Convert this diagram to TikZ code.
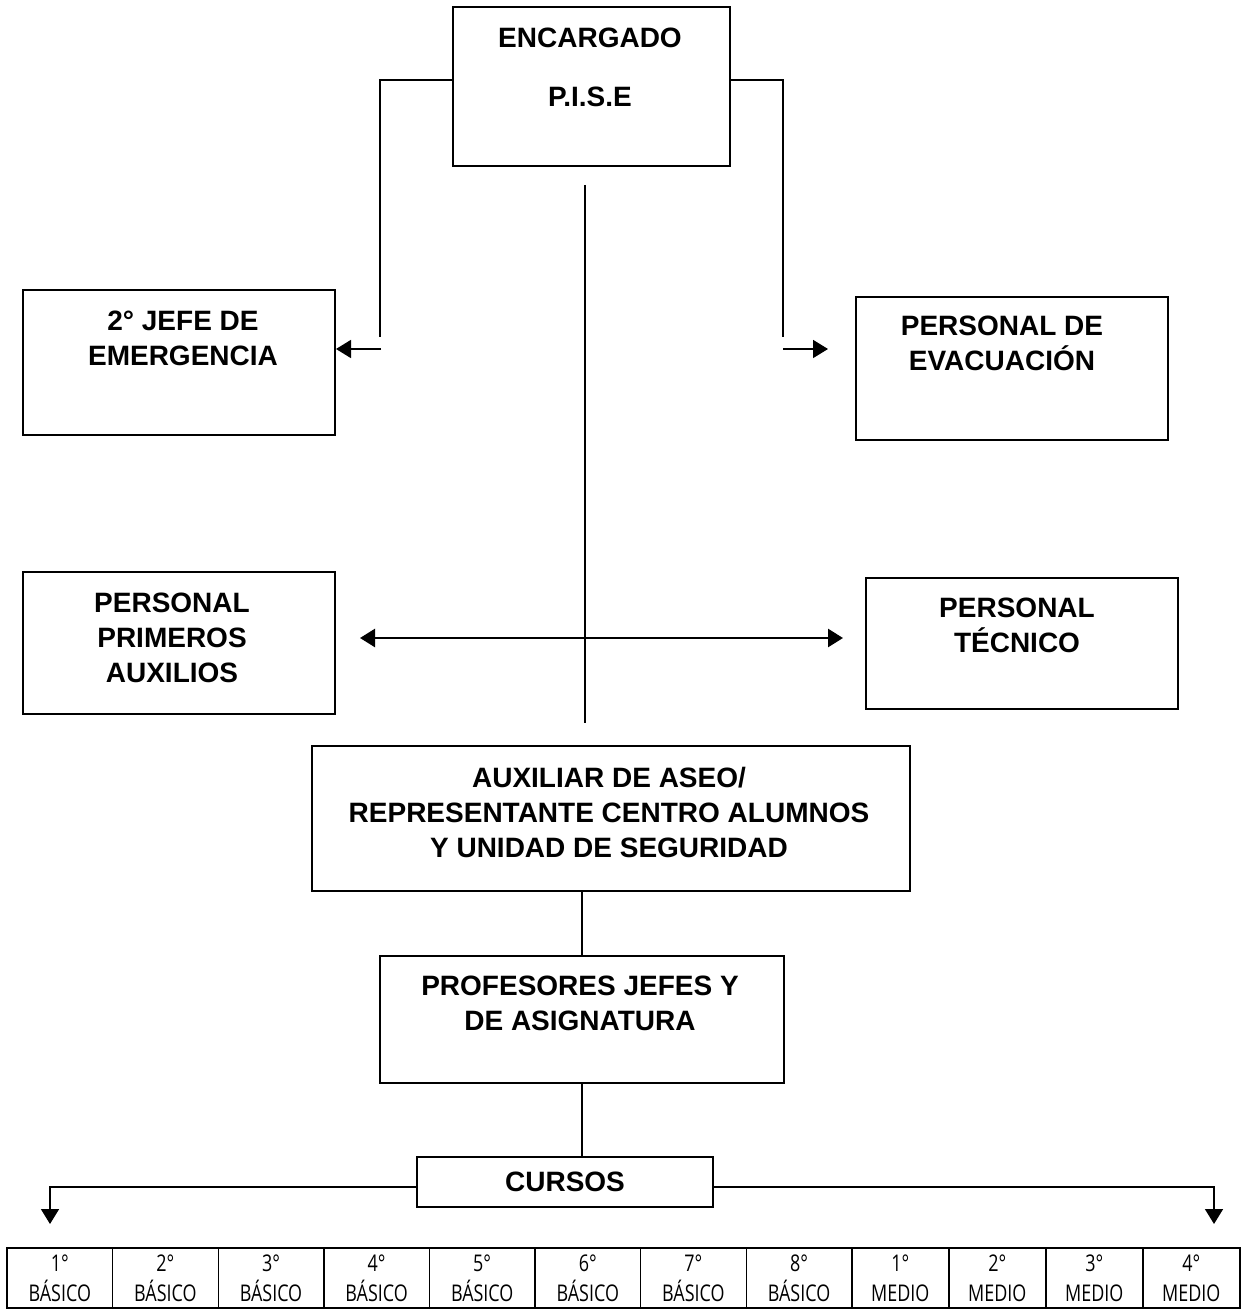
\documentclass[tikz,border=0pt]{standalone}
\usepackage{fontspec}
\setmainfont{Liberation Sans}
\newfontfamily\cellfont[FakeStretch=0.78]{Open Sans}
\usetikzlibrary{arrows.meta}

\tikzset{
  box/.style={draw, line width=1pt, inner sep=0pt},
  title/.style={align=center, font=\bfseries\fontsize{14}{17.5}\selectfont},
  conn/.style={line width=0.8pt},
  tip/.style={-{Triangle[length=7.5pt,width=9pt]}},
  cell/.style={draw, line width=0.7pt, minimum height=30pt, align=center,
    inner sep=0pt, font=\cellfont\fontsize{11.5}{15}\selectfont}
}

\begin{document}
\begin{tikzpicture}[x=0.5pt, y=-0.5pt]
  \useasboundingbox (0,0) rectangle (1245,1309);

  % boxes
  \node[box, minimum width=138.5pt, minimum height=79.5pt] (pise) at (591.5,86.5) {};
  \node[box, minimum width=156pt, minimum height=72.5pt] (jefe) at (179,362.5) {};
  \node[box, minimum width=156pt, minimum height=71.5pt] (evac) at (1012,368.5) {};
  \node[box, minimum width=156pt, minimum height=71pt] (auxilios) at (179,643) {};
  \node[box, minimum width=156pt, minimum height=65.5pt] (tecnico) at (1022,643.5) {};
  \node[box, minimum width=299pt, minimum height=72.5pt] (aseo) at (611,818.5) {};
  \node[box, minimum width=202pt, minimum height=63.5pt] (profesores) at (582,1019.5) {};
  \node[box, title, minimum width=148pt, minimum height=25pt] (cursos) at (565,1182) {CURSOS};

  % texts
  \node[title, font=\bfseries\fontsize{14}{29.5}\selectfont] (pisetext) at (590,67) {ENCARGADO\\P.I.S.E};
  \node[title] (jefetext) at (183,338.5) {2° JEFE DE\\EMERGENCIA};
  \node[title] (evactext) at (1002,343.5) {PERSONAL DE\\EVACUACIÓN};
  \node[title] (auxiliostext) at (172,637.5) {PERSONAL\\PRIMEROS\\AUXILIOS};
  \node[title] (tecnicotext) at (1017,625) {PERSONAL\\TÉCNICO};
  \node[title] (aseotext) at (609,812.5) {AUXILIAR DE ASEO/\\REPRESENTANTE CENTRO ALUMNOS\\Y UNIDAD DE SEGURIDAD};
  \node[title] (profesorestext) at (580,1003.5) {PROFESORES JEFES Y\\DE ASIGNATURA};

  % courses
  \foreach \i in {1,...,8}
    \node[cell, minimum width=52.8pt] (c\i) at ({7+105.6*(\i-0.5)},1278) {\i°\\BÁSICO};
  \foreach \i/\n in {9/1,10/2,11/3,12/4}
    \node[cell, minimum width=48.5pt] (c\i) at ({851.8+97*(\n-0.5)},1278) {\n°\\MEDIO};

  \path
    coordinate (lbend)  at (380,337)
    coordinate (lstart) at (381,349)
    coordinate (rbend)  at (783,337)
    coordinate (rstart) at (783,349)
    coordinate (rtip)   at (828,349)
    coordinate (ctop)   at (585,185)
    coordinate (cbot)   at (585,723)
    coordinate (dleft)  at (360,638)
    coordinate (dright) at (843,638)
    coordinate (bleft)  at (50,1224)
    coordinate (bright) at (1214,1224)
  ;

  \draw[conn] ([yshift=3.25pt]pise.west) -| (lbend);
  \draw[conn, tip] (lstart) -- (jefe.east |- lstart);
  \draw[conn] ([yshift=3.25pt]pise.east) -| (rbend);
  \draw[conn, tip] (rstart) -- (rtip);
  \draw[conn] (ctop) -- (cbot);
  \draw[line width=1.3pt, {Triangle[length=7.5pt,width=9pt]}-{Triangle[length=7.5pt,width=9pt]}] (dleft) -- (dright);
  \draw[conn] (profesores.north |- aseo.south) -- (profesores.north);
  \draw[conn] (profesores.south) -- (profesores.south |- cursos.north);
  \draw[conn, tip] ([yshift=-2.5pt]cursos.west) -| (bleft);
  \draw[conn, tip] ([yshift=-2.5pt]cursos.east) -| (bright);
\end{tikzpicture}
\end{document}
